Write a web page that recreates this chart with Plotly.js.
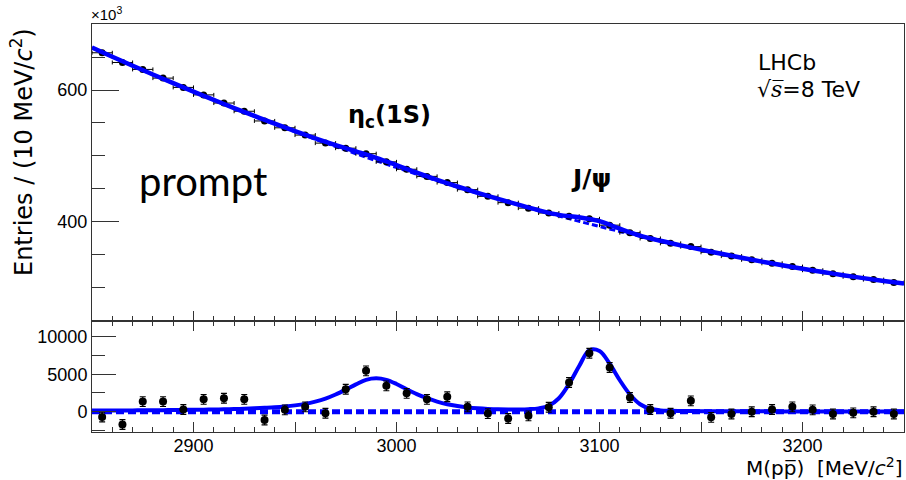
<!DOCTYPE html>
<html>
<head>
<meta charset="utf-8">
<script src="https://cdn.plot.ly/plotly-3.0.1.min.js"></script>
<style>html,body{margin:0;padding:0;background:#fff;}#chart{width:906px;height:480px;}</style>
</head>
<body>
<div id="chart"></div>
<script>
// ---- data ----
// bin centres of M(p pbar) [MeV/c^2]
const massBins = [2855,2865,2875,2885,2895,2905,2915,2925,2935,2945,
                  2955,2965,2975,2985,2995,3005,3015,3025,3035,3045,
                  3055,3065,3075,3085,3095,3105,3115,3125,3135,3145,
                  3155,3165,3175,3185,3195,3205,3215,3225,3235,3245];
// upper panel: entries per bin (x10^3)
const entriesK = [656.4,641.7,631.2,618.0,603.9,592.6,580.2,567.8,553.1,542.7,
                  531.7,519.5,511.8,503.5,491.1,479.9,469.1,459.7,449.0,438.9,
                  429.3,421.0,413.6,408.8,404.8,395.2,383.8,375.0,367.6,362.7,
                  354.1,348.3,342.7,337.4,332.4,326.9,321.4,317.0,312.7,308.3];
// lower panel: background-subtracted entries per bin
const residuals = [-700,-1700,1350,1350,300,1650,1800,1650,-1100,250,
                   650,-200,3000,5450,3450,2450,1650,2000,650,-250,
                   -900,-550,600,3900,7800,5900,1900,300,-200,1450,
                   -750,-300,0,300,650,250,-300,-150,0,-300];
const residualErr = [650,650,650,650,650,650,650,650,650,650,
                     650,650,650,650,650,650,650,650,650,650,
                     650,650,650,650,650,650,650,650,650,650,
                     650,650,650,650,650,650,650,650,650,650];
// fit curves
const curveMass10 = [2850,2860,2870,2880,2890,2900,2910,2920,2930,2940,
                     2950,2960,2970,2980,2990,3000,3010,3020,3030,3040,
                     3050,3060,3070,3080,3090,3100,3110,3120,3130,3140,
                     3150,3160,3170,3180,3190,3200,3210,3220,3230,3240,3250];
const bkgFitK = [664.1,650.3,636.6,623.2,610.1,597.3,584.7,572.3,560.2,548.3,
                 536.7,525.4,514.3,503.4,492.8,482.5,472.4,462.6,453.0,443.7,
                 434.7,425.9,417.3,409.0,401.0,393.2,385.6,378.3,371.3,364.5,
                 358.0,351.7,345.7,339.9,334.4,329.2,324.2,319.4,314.9,310.7,306.6];
const curveMass5 = [2850,2855,2860,2865,2870,2875,2880,2885,2890,2895,
                    2900,2905,2910,2915,2920,2925,2930,2935,2940,2945,
                    2950,2955,2960,2965,2970,2975,2980,2985,2990,2995,
                    3000,3005,3010,3015,3020,3025,3030,3035,3040,3045,
                    3050,3055,3060,3065,3070,3075,3080,3085,3090,3095,
                    3100,3105,3110,3115,3120,3125,3130,3135,3140,3145,
                    3150,3155,3160,3165,3170,3175,3180,3185,3190,3195,
                    3200,3205,3210,3215,3220,3225,3230,3235,3240,3245,3250];
const signalFit = [150,155,160,170,180,190,200,215,230,245,
                   260,280,300,330,360,400,450,520,600,710,
                   850,1050,1350,1750,2300,2950,3650,4250,4450,4250,
                   3700,3000,2350,1800,1350,1000,760,580,460,380,
                   330,310,310,340,450,800,1800,3700,6100,8200,
                   8100,6400,4200,2300,1000,400,180,120,100,90,
                   80,75,70,65,60,57,54,51,48,45,
                   42,40,38,36,34,32,30,28,26,24,22];
const zeroLineMass = [2850,3250];
const zeroLine = [0,0];
const xTickVals = [2850,2900,2950,3000,3050,3100,3150,3200,3250];
const xTickText = ['','2900','','3000','','3100','','3200',''];

// total fit in upper panel = background + signal (signal taken at the 10 MeV points)
const totalFitK = bkgFitK.map((b,i)=> b + signalFit[curveMass5.indexOf(curveMass10[i])]/1000);

const BLUE = '#0000ff';
const traces = [
  {x: curveMass10, y: bkgFitK, xaxis:'x2', yaxis:'y', mode:'lines', type:'scatter',
   line:{color:BLUE, width:3, dash:'6px,3px', shape:'spline'}, hoverinfo:'skip'},
  {x: massBins, y: entriesK, xaxis:'x2', yaxis:'y', mode:'markers', type:'scatter',
   marker:{color:'#000', size:7},
   error_x:{type:'constant', value:5, width:2, thickness:1, color:'#000'}},
  {x: curveMass10, y: totalFitK, xaxis:'x2', yaxis:'y', mode:'lines', type:'scatter',
   line:{color:BLUE, width:4.5, shape:'spline'}},
  {x: zeroLineMass, y: zeroLine, xaxis:'x', yaxis:'y2', mode:'lines', type:'scatter',
   line:{color:BLUE, width:5, dash:'8px,4px'}},
  {x: curveMass5, y: signalFit, xaxis:'x', yaxis:'y2', mode:'lines', type:'scatter',
   line:{color:BLUE, width:4, shape:'spline'}},
  {x: massBins, y: residuals, xaxis:'x', yaxis:'y2', mode:'markers', type:'scatter',
   marker:{color:'#000', size:8},
   error_y:{type:'data', array: residualErr, width:3, thickness:1.2, color:'#000'}}
];

const tickFont = {family:'Liberation Sans, Arial, sans-serif', size:18, color:'#000'};
const LINE = '#333';
const split = 0.2721;
const px = v => (v-92)/812;      // pixel column -> paper x
const py = v => (432-v)/408;     // pixel row -> paper y
const layout = {
  width:906, height:480,
  margin:{l:92, r:2, t:24, b:48},
  paper_bgcolor:'#fff', plot_bgcolor:'#fff',
  showlegend:false,
  xaxis:{domain:[0,1], anchor:'y2', range:[2850,3250], tickmode:'array',
         tickvals:xTickVals, ticktext:xTickText, ticks:'inside', ticklen:10, tickwidth:1,
         ticklabelstandoff:-3,
         tickcolor:LINE, minor:{dtick:10, tick0:2850, ticks:'inside', ticklen:5, tickcolor:LINE, showgrid:false},
         showline:true, linecolor:LINE, linewidth:1, mirror:'ticks', showgrid:false, zeroline:false,
         tickfont:tickFont},
  xaxis2:{domain:[0,1], anchor:'y', matches:'x', range:[2850,3250], tickmode:'array',
          tickvals:xTickVals, ticktext:xTickText, showticklabels:false,
          ticks:'inside', ticklen:10, tickwidth:1, tickcolor:LINE,
          minor:{dtick:10, tick0:2850, ticks:'inside', ticklen:5, tickcolor:LINE, showgrid:false},
          showline:true, linecolor:LINE, linewidth:1, mirror:true, showgrid:false, zeroline:false},
  yaxis:{domain:[split,1], anchor:'x2', range:[250,700], tick0:0, dtick:200,
         ticks:'inside', ticklen:27, tickwidth:1, tickcolor:LINE,
         minor:{dtick:50, ticks:'inside', ticklen:13, tickcolor:LINE, showgrid:false},
         showline:true, linecolor:LINE, linewidth:1, mirror:true, showgrid:false, zeroline:false,
         tickfont:tickFont},
  yaxis2:{domain:[0,split], anchor:'x', range:[-2700,12100], tick0:0, dtick:5000, tickformat:'d',
          ticks:'inside', ticklen:24, tickwidth:1, tickcolor:LINE,
          minor:{dtick:2500, ticks:'inside', ticklen:13, tickcolor:LINE, showgrid:false},
          showline:true, linecolor:LINE, linewidth:1, mirror:true, showgrid:false, zeroline:false,
          tickfont:tickFont},
  annotations:[
    {xref:'paper', yref:'paper', x:px(22), y:py(152), xanchor:'center', yanchor:'middle',
     textangle:-90, showarrow:false,
     text:'Entries / (10 MeV/<i>c</i><sup>2</sup>)',
     font:{family:'DejaVu Sans, sans-serif', size:24, color:'#000'}},
    {xref:'paper', yref:'paper', x:px(904), y:py(467), xanchor:'right', yanchor:'middle', showarrow:false,
     text:'M(pp\u0305)  [MeV/<i>c</i><sup>2</sup>]',
     font:{family:'DejaVu Sans, sans-serif', size:20, color:'#000'}},
    {xref:'paper', yref:'paper', x:px(89), y:py(13), xanchor:'left', yanchor:'middle', showarrow:false,
     text:'\u00d710<sup>3</sup>',
     font:{family:'Liberation Sans, Arial, sans-serif', size:15, color:'#000'}},
    {xref:'paper', yref:'paper', x:px(756), y:py(62), xanchor:'left', yanchor:'middle', showarrow:false,
     text:'LHCb', font:{family:'DejaVu Sans, sans-serif', size:22, color:'#000'}},
    {xref:'paper', yref:'paper', x:px(755), y:py(89), xanchor:'left', yanchor:'middle', showarrow:false,
     text:'\u221a<span style="font-family:DejaVu Serif;font-style:italic">s\u0305</span>=8 TeV',
     font:{family:'DejaVu Sans, sans-serif', size:22, color:'#000'}},
    {xref:'paper', yref:'paper', x:px(203), y:py(181), xanchor:'center', yanchor:'middle', showarrow:false,
     text:'prompt', font:{family:'Lato, sans-serif', size:40, color:'#000'}},
    {xref:'paper', yref:'paper', x:px(389), y:py(117), xanchor:'center', yanchor:'middle', showarrow:false,
     text:'<b>\u03b7<sub>c</sub>(1S)</b>', font:{family:'DejaVu Sans, sans-serif', size:24, color:'#000'}},
    {xref:'paper', yref:'paper', x:px(591), y:py(178), xanchor:'center', yanchor:'middle', showarrow:false,
     text:'<b>J/\u03c8</b>', font:{family:'DejaVu Sans, sans-serif', size:25, color:'#000'}}
  ]
};
Plotly.newPlot('chart', traces, layout, {staticPlot:true, displayModeBar:false});
</script>
</body>
</html>
